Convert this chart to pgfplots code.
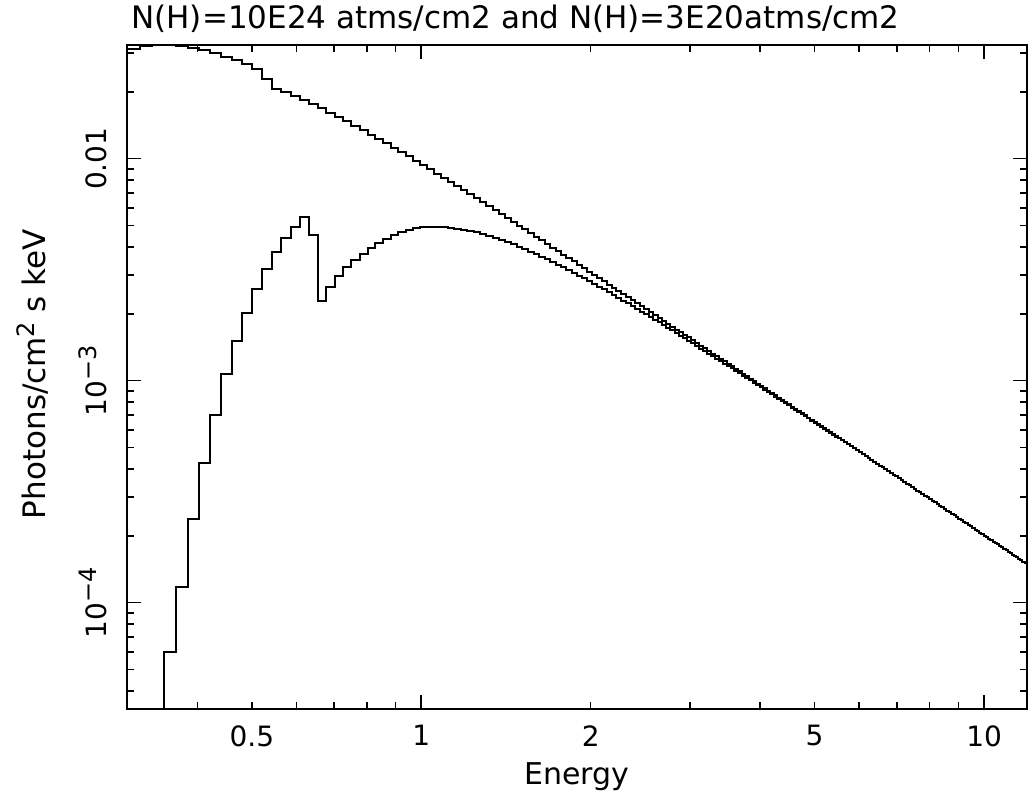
\documentclass[border=0pt]{standalone}
\usepackage{fontspec}
\setmainfont{DejaVu Sans}
\usepackage{pgfplots}
\usepackage{pgfplotstable}
\pgfplotsset{compat=1.18}

\pgfplotstableread{
x u l
0.3000 0.03130 5e-6
0.3161 0.03215 1e-5
0.3326 0.03253 2e-5
0.3496 0.03250 6.02e-5
0.3669 0.03215 1.18e-4
0.3847 0.03156 2.38e-4
0.4029 0.03076 4.27e-4
0.4216 0.02983 7.03e-4
0.4406 0.02880 1.072e-3
0.4601 0.02770 1.503e-3
0.4800 0.02657 2.02e-3
0.5003 0.02544 2.59e-3
0.5210 0.02294 3.18e-3
0.5422 0.02066 3.80e-3
0.5638 0.01989 4.37e-3
0.5858 0.01912 4.90e-3
0.6082 0.01835 5.46e-3
0.6310 0.01758 4.53e-3
0.6543 0.01684 2.29e-3
0.6780 0.01611 2.63e-3
0.7021 0.01540 2.96e-3
0.7266 0.01472 3.24e-3
0.7516 0.01407 3.49e-3
0.7769 0.01344 3.72e-3
0.8027 0.01284 3.94e-3
0.8289 0.01227 4.15e-3
0.8556 0.01172 4.34e-3
0.8826 0.01120 4.53e-3
0.9101 0.01070 4.65e-3
0.9380 0.01023 4.75e-3
0.9663 0.009777 4.86e-3
0.9950 0.009350 4.906e-3
1.0242 0.008944 4.930e-3
1.0538 0.008558 4.933e-3
1.0838 0.008192 4.919e-3
1.1142 0.007845 4.890e-3
1.1450 0.007515 4.846e-3
1.1763 0.007201 4.791e-3
1.2080 0.006903 4.727e-3
1.2401 0.006620 4.654e-3
1.2726 0.006351 4.574e-3
1.3056 0.006095 4.489e-3
1.3389 0.005852 4.399e-3
1.3727 0.005620 4.305e-3
1.4069 0.005400 4.209e-3
1.4416 0.005191 4.112e-3
1.4766 0.004991 4.013e-3
1.5121 0.004801 3.914e-3
1.5480 0.004620 3.815e-3
1.5843 0.004448 3.716e-3
1.6210 0.004283 3.618e-3
1.6582 0.004126 3.521e-3
1.6958 0.003976 3.426e-3
1.7338 0.003833 3.332e-3
1.7722 0.003697 3.240e-3
1.8110 0.003566 3.149e-3
1.8503 0.003442 3.061e-3
1.8900 0.003323 2.975e-3
1.9301 0.003209 2.891e-3
1.9706 0.003100 2.809e-3
2.0116 0.002995 2.729e-3
2.0529 0.002896 2.651e-3
2.0947 0.002800 2.576e-3
2.1370 0.002708 2.503e-3
2.1796 0.002620 2.431e-3
2.2226 0.002536 2.363e-3
2.2661 0.002455 2.296e-3
2.3100 0.002378 2.231e-3
2.3543 0.002303 2.168e-3
2.3991 0.002232 2.107e-3
2.4442 0.002163 2.048e-3
2.4898 0.002097 1.991e-3
2.5358 0.002034 1.936e-3
2.5822 0.001973 1.882e-3
2.6291 0.001914 1.830e-3
2.6763 0.001857 1.780e-3
2.7240 0.001803 1.732e-3
2.7721 0.001751 1.685e-3
2.8207 0.001700 1.639e-3
2.8696 0.001652 1.595e-3
2.9190 0.001605 1.552e-3
2.9688 0.001566 1.511e-3
3.0190 0.001522 1.471e-3
3.0696 0.001480 1.432e-3
3.1207 0.001439 1.395e-3
3.1721 0.001400 1.359e-3
3.2240 0.001362 1.324e-3
3.2764 0.001325 1.290e-3
3.3291 0.001290 1.257e-3
3.3823 0.001255 1.225e-3
3.4358 0.001223 1.194e-3
3.4898 0.001191 1.164e-3
3.5443 0.001160 1.135e-3
3.5991 0.001130 1.107e-3
3.6544 0.001101 1.079e-3
3.7101 0.001073 1.053e-3
3.7662 0.001047 1.027e-3
3.8227 0.001020 1.002e-3
3.8796 9.952e-4 9.784e-4
3.9370 9.708e-4 9.550e-4
3.9948 9.471e-4 9.323e-4
4.0530 9.242e-4 9.103e-4
4.1116 9.019e-4 8.889e-4
4.1707 8.804e-4 8.682e-4
4.2302 8.595e-4 8.481e-4
4.2901 8.393e-4 8.285e-4
4.3504 8.197e-4 8.095e-4
4.4111 8.007e-4 7.911e-4
4.4723 7.822e-4 7.732e-4
4.5339 7.643e-4 7.558e-4
4.5959 7.469e-4 7.390e-4
4.6583 7.300e-4 7.225e-4
4.7211 7.136e-4 7.065e-4
4.7844 6.977e-4 6.910e-4
4.8481 6.823e-4 6.760e-4
4.9122 6.672e-4 6.613e-4
4.9767 6.526e-4 6.470e-4
5.0417 6.385e-4 6.332e-4
5.1070 6.247e-4 6.197e-4
5.1728 6.113e-4 6.065e-4
5.2390 5.982e-4 5.938e-4
5.3057 5.856e-4 5.813e-4
5.3727 5.732e-4 5.692e-4
5.4402 5.612e-4 5.574e-4
5.5081 5.496e-4 5.496e-4
5.5764 5.382e-4 5.382e-4
5.6452 5.271e-4 5.271e-4
5.7143 5.164e-4 5.164e-4
5.7839 5.059e-4 5.059e-4
5.8539 4.957e-4 4.957e-4
5.9243 4.857e-4 4.857e-4
5.9952 4.760e-4 4.760e-4
6.0664 4.666e-4 4.666e-4
6.1381 4.574e-4 4.574e-4
6.2102 4.484e-4 4.484e-4
6.2828 4.397e-4 4.397e-4
6.3557 4.312e-4 4.312e-4
6.4291 4.229e-4 4.229e-4
6.5029 4.148e-4 4.148e-4
6.5771 4.069e-4 4.069e-4
6.6517 3.992e-4 3.992e-4
6.7268 3.917e-4 3.917e-4
6.8023 3.844e-4 3.844e-4
6.8782 3.772e-4 3.772e-4
6.9545 3.702e-4 3.702e-4
7.0312 3.634e-4 3.634e-4
7.1084 3.567e-4 3.567e-4
7.1860 3.502e-4 3.502e-4
7.2640 3.439e-4 3.439e-4
7.3424 3.377e-4 3.377e-4
7.4212 3.316e-4 3.316e-4
7.5005 3.257e-4 3.257e-4
7.5802 3.199e-4 3.199e-4
7.6603 3.142e-4 3.142e-4
7.7408 3.087e-4 3.087e-4
7.8218 3.033e-4 3.033e-4
7.9032 2.980e-4 2.980e-4
7.9849 2.929e-4 2.929e-4
8.0672 2.878e-4 2.878e-4
8.1498 2.829e-4 2.829e-4
8.2328 2.781e-4 2.781e-4
8.3163 2.734e-4 2.734e-4
8.4002 2.688e-4 2.688e-4
8.4845 2.642e-4 2.642e-4
8.5693 2.598e-4 2.598e-4
8.6544 2.555e-4 2.555e-4
8.7400 2.513e-4 2.513e-4
8.8260 2.471e-4 2.471e-4
8.9125 2.431e-4 2.431e-4
8.9993 2.391e-4 2.391e-4
9.0866 2.352e-4 2.352e-4
9.1743 2.314e-4 2.314e-4
9.2624 2.277e-4 2.277e-4
9.3509 2.241e-4 2.241e-4
9.4399 2.205e-4 2.205e-4
9.5293 2.170e-4 2.170e-4
9.6191 2.136e-4 2.136e-4
9.7093 2.102e-4 2.102e-4
9.7999 2.069e-4 2.069e-4
9.8910 2.037e-4 2.037e-4
9.9824 2.005e-4 2.005e-4
10.074 1.975e-4 1.975e-4
10.167 1.944e-4 1.944e-4
10.259 1.915e-4 1.915e-4
10.353 1.885e-4 1.885e-4
10.446 1.857e-4 1.857e-4
10.540 1.829e-4 1.829e-4
10.635 1.801e-4 1.801e-4
10.729 1.774e-4 1.774e-4
10.825 1.748e-4 1.748e-4
10.920 1.722e-4 1.722e-4
11.016 1.697e-4 1.697e-4
11.113 1.672e-4 1.672e-4
11.210 1.647e-4 1.647e-4
11.307 1.623e-4 1.623e-4
11.405 1.600e-4 1.600e-4
11.503 1.577e-4 1.577e-4
11.602 1.554e-4 1.554e-4
11.701 1.532e-4 1.532e-4
11.801 1.510e-4 1.510e-4
11.900 1.489e-4 1.489e-4
12.001 1.489e-4 1.489e-4
}\spec

\begin{document}
\begin{tikzpicture}
\path[use as bounding box] (-63.5pt,-43.5pt) rectangle (450.5pt,354.5pt);
\begin{axis}[
  at={(0pt,0pt)}, anchor=south west,
  scale only axis, width=450pt, height=332pt,
  xmode=log, ymode=log,
  xmin=0.3, xmax=11.92, ymin=3.32e-5, ymax=0.0325,
  axis line style={line width=1pt, black},
  every tick/.append style={line width=0.8pt, black},
  major tick length=7pt, minor tick length=3.5pt,
  tick align=inside, tick pos=both,
  xtick={1,10}, xticklabels={1,10},
  minor xtick={0.4,0.5,0.6,0.7,0.8,0.9,2,3,4,5,6,7,8,9},
  extra x ticks={0.5,2,5}, extra x tick labels={0.5,2,5},
  extra x tick style={major tick length=3.5pt},
  ytick={1e-4,1e-3,1e-2},
  yticklabels={{10\raisebox{5pt}{\fontsize{12}{14}\selectfont −4}},{10\raisebox{5pt}{\fontsize{12}{14}\selectfont −3}},{0.01}},
  minor ytick={4e-5,5e-5,6e-5,7e-5,8e-5,9e-5,2e-4,3e-4,4e-4,5e-4,6e-4,7e-4,8e-4,9e-4,2e-3,3e-3,4e-3,5e-3,6e-3,7e-3,8e-3,9e-3,0.02,0.03},
  xticklabel style={font=\fontsize{14}{16}\selectfont, anchor=north, inner sep=0pt, yshift=-8pt},
  yticklabel style={font=\fontsize{14}{16}\selectfont, xshift=-10pt, rotate=90, anchor=base, inner sep=0pt},
]
\addplot[const plot, line width=1pt, black, no markers] table[x=x,y=u]{\spec};
\addplot[const plot, line width=1pt, black, no markers] table[x=x,y=l]{\spec};
\end{axis}
\node[anchor=base west, inner sep=0pt, font=\fontsize{15.5}{18}\selectfont] at (2pt,340pt) {N(H)=10E24 atms/cm2 and N(H)=3E20atms/cm2};
\node[anchor=base, inner sep=0pt, font=\fontsize{15}{18}\selectfont] at (225pt,-38pt) {Energy};
\node[anchor=base, rotate=90, inner sep=0pt, font=\fontsize{15.5}{18}\selectfont] at (-41pt,167.5pt) {Photons/cm\raisebox{5pt}{\fontsize{12}{14}\selectfont 2} s keV};
\end{tikzpicture}
\end{document}
